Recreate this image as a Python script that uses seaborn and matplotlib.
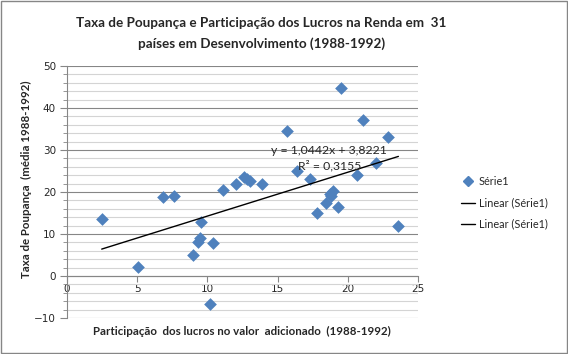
import numpy as np
import pandas as pd
import matplotlib.pyplot as plt
import seaborn as sns
from matplotlib.lines import Line2D
from matplotlib.patches import Rectangle
from matplotlib.ticker import MultipleLocator

# Participação dos lucros (x) e taxa de poupança (y), 31 países
lucros = [2.47, 5.08, 6.81, 7.64, 9.0, 9.3, 9.5, 9.52, 10.19, 10.42,
          11.14, 12.04, 12.6, 12.8, 13.03, 13.86, 15.65, 16.36, 17.33, 17.83,
          18.45, 18.7, 18.8, 18.92, 19.33, 19.52, 20.66, 21.06, 22.0, 22.88, 23.6]
poupanca = [13.6, 2.1, 18.7, 19.0, 5.0, 8.0, 9.0, 12.9, -6.7, 7.8,
            20.5, 21.9, 23.5, 23.0, 22.5, 21.9, 34.5, 25.0, 23.1, 14.9,
            17.3, 19.6, 19.0, 20.3, 16.5, 44.7, 24.0, 37.1, 26.8, 33.0, 12.0]

# Linha de tendência (Excel)
slope, intercept, r2 = 1.0442, 3.8221, 0.3155

df = pd.DataFrame({'lucros': lucros, 'poupanca': poupanca})
trend = pd.DataFrame({'x': [df['lucros'].min(), df['lucros'].max()]})
trend['y'] = slope * trend['x'] + intercept

sns.set_style('white')
plt.rcParams['font.family'] = ['DejaVu Sans']

fig = plt.figure(figsize=(5.68, 3.54), dpi=100)
ax = fig.add_axes([0.118, 0.1017, 0.618, 0.712])

gray = '#868686'

sns.scatterplot(data=df, x='lucros', y='poupanca', marker='D', s=42,
                color='#4F81BD', edgecolor='#4F81BD', linewidth=0,
                ax=ax, zorder=3)
sns.lineplot(data=trend, x='x', y='y', color='black', linewidth=1,
             ax=ax, zorder=4)

ax.set_xlim(0, 25)
ax.set_ylim(-10, 50)
ax.xaxis.set_major_locator(MultipleLocator(5))
ax.yaxis.set_major_locator(MultipleLocator(10))
ax.yaxis.set_minor_locator(MultipleLocator(2))
ax.set_axisbelow(True)
ax.grid(axis='y', which='major', color=gray, linewidth=0.8)
ax.grid(axis='y', which='minor', color='#d4d4d4', linewidth=0.8)
ax.grid(axis='x', visible=False)

for s in ['top', 'right']:
    ax.spines[s].set_visible(False)
ax.spines['bottom'].set_position(('data', 0))
ax.spines['bottom'].set_color(gray)
ax.spines['left'].set_color(gray)

ax.tick_params(axis='x', which='major', direction='out', length=4, color=gray,
               labelsize=7.5, pad=2, bottom=True)
ax.tick_params(axis='y', which='major', direction='out', length=5, color=gray,
               labelsize=7.5, pad=3, left=True)
ax.tick_params(axis='y', which='minor', direction='out', length=3, color=gray,
               left=True)
ax.set_xlabel('')
ax.set_ylabel('')

# Títulos
fig.text(0.46, 0.935, 'Taxa de Poupança e Participação dos Lucros na Renda em  31',
         ha='center', va='center', fontsize=9.7, weight='bold', family='Lato')
fig.text(0.46, 0.878, 'países em Desenvolvimento (1988-1992)',
         ha='center', va='center', fontsize=9.7, weight='bold', family='Lato')
fig.text(0.426, 0.065, 'Participação  dos lucros no valor  adicionado  (1988-1992)',
         ha='center', va='center', fontsize=8.3, weight='bold', family='Lato')
fig.text(0.047, 0.495, 'Taxa de Poupança  (média 1988-1992)', rotation=90,
         ha='center', va='center', fontsize=8.3, weight='bold', family='Lato')

# Equação da tendência
fig.text(329 / 568, 1 - 150 / 354, f'y = {slope:.4f}x + {intercept:.4f}'.replace('.', ','),
         ha='center', va='center', fontsize=8.8, family='Lato')
fig.text(330 / 568, 1 - 166 / 354, f'R² = {r2:.4f}'.replace('.', ','),
         ha='center', va='center', fontsize=8.8, family='Lato')

handles = [
    Line2D([], [], marker='D', color='#4F81BD', linestyle='none', markersize=5.5),
    Line2D([], [], color='black', linewidth=1),
    Line2D([], [], color='black', linewidth=1),
]
labels = ['Série1', 'Linear (Série1)', 'Linear (Série1)']
fig.legend(handles, labels, loc='upper left', bbox_to_anchor=(0.795, 0.53),
           frameon=False, handlelength=1.3, handletextpad=0.3,
           labelspacing=0.95, prop={'family': 'Lato', 'size': 7.8})

# Borda do gráfico
fig.add_artist(Rectangle((0.001, 0.002), 0.997, 0.995, transform=fig.transFigure,
                         fill=False, edgecolor=gray, linewidth=1))

fig.savefig('out.png', dpi=100)
